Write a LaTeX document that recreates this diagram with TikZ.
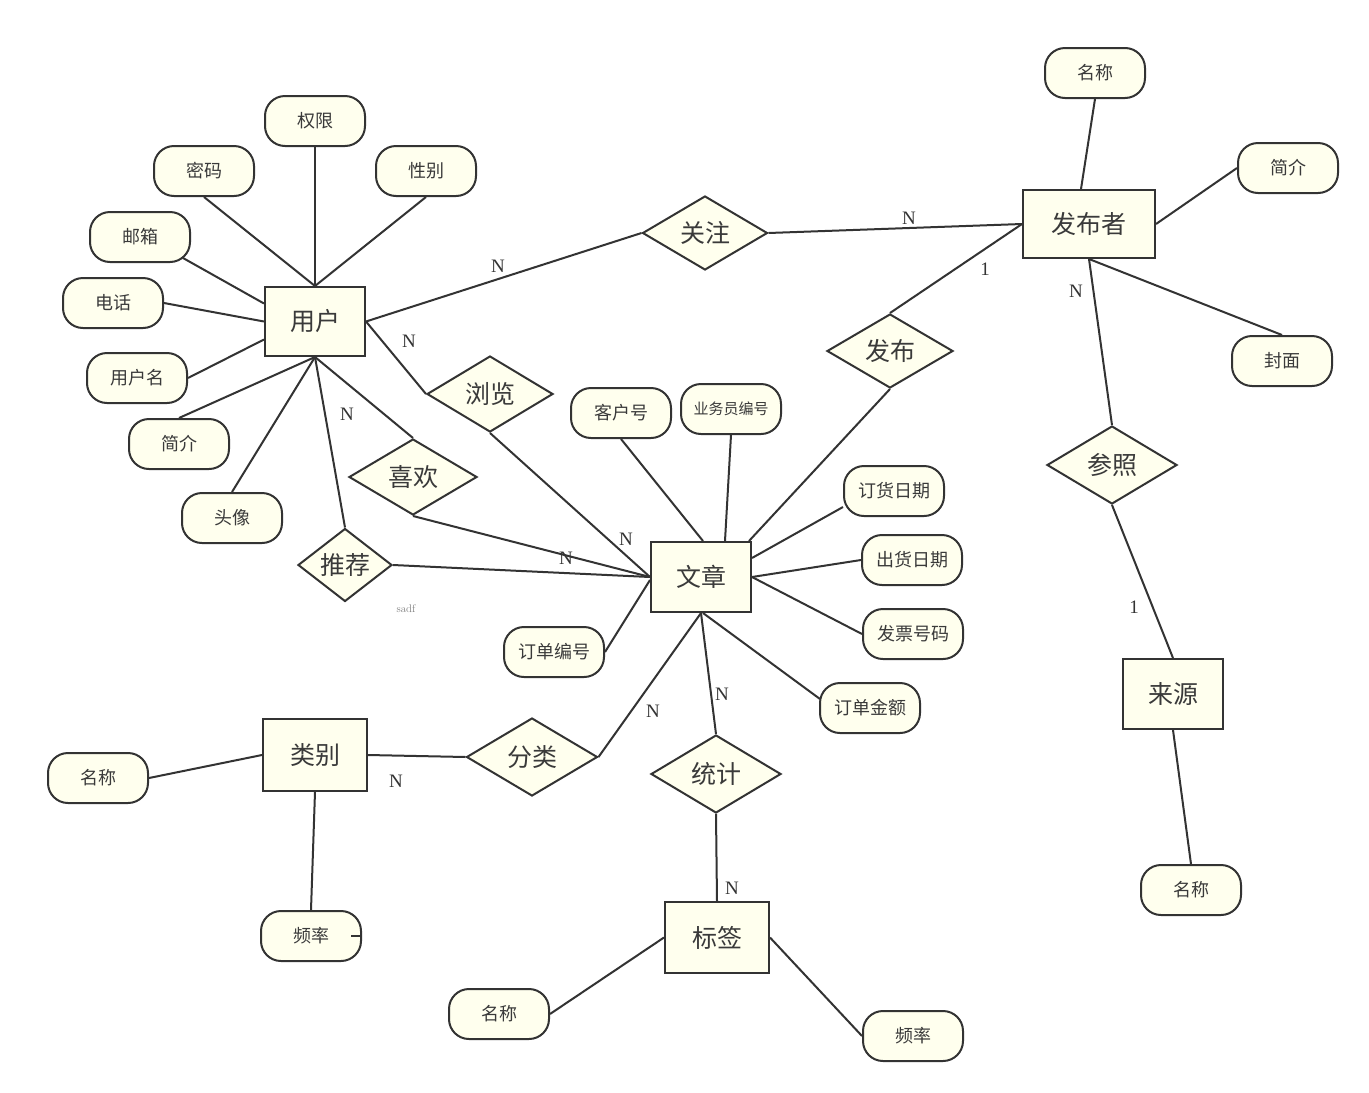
\documentclass[tikz,border=0pt]{standalone}
\usepackage{fontspec}
\newfontfamily\cjk{Noto Sans CJK SC}
\newfontfamily\lblfont{Liberation Serif}
\usetikzlibrary{shapes.geometric,backgrounds,calc}
\definecolor{ln}{HTML}{333333}
\definecolor{fillc}{HTML}{FFFFEE}
\definecolor{txt}{HTML}{3A3A3A}
\tikzset{
  ent/.style={draw=ln,line width=2pt,fill=fillc,rectangle,inner sep=0pt,text=txt,font=\cjk\fontsize{25}{30}\selectfont},
  rel/.style={draw=ln,line width=2pt,fill=fillc,diamond,inner sep=0pt,text=txt,font=\cjk\fontsize{25}{30}\selectfont},
  attr/.style={draw=ln,line width=2pt,fill=fillc,rectangle,rounded corners=20pt,minimum width=100pt,minimum height=50pt,inner sep=0pt,text=txt,font=\cjk\fontsize{18}{22}\selectfont},
  lbl/.style={text=ln,font=\lblfont\fontsize{19}{22}\selectfont,inner sep=0pt},
  conn/.style={draw=ln,line width=2pt}
}
\begin{document}
\begin{tikzpicture}[x=1pt,y=-1pt]
\useasboundingbox (0,0) rectangle (1369,1093);
% entities
\node[ent,minimum width=100pt,minimum height=69pt] (yh) at (315,321.5) {用户};
\node[ent,minimum width=100pt,minimum height=70pt] (wz) at (701,577) {文章};
\node[ent,minimum width=132pt,minimum height=68pt] (fbz) at (1089,224) {发布者};
\node[ent,minimum width=104pt,minimum height=72pt] (lb) at (315,755) {类别};
\node[ent,minimum width=104pt,minimum height=71pt] (bq) at (717,937.5) {标签};
\node[ent,minimum width=100pt,minimum height=70pt] (ly) at (1173,694) {来源};
% relations
\node[rel,minimum width=125pt,minimum height=74pt] (gz) at (705,233) {关注};
\node[rel,minimum width=126pt,minimum height=76pt] (ll) at (490,394) {浏览};
\node[rel,minimum width=128pt,minimum height=76pt] (xh) at (413,477) {喜欢};
\node[rel,minimum width=94pt,minimum height=70pt] (tj) at (345,565) {推荐};
\node[rel,minimum width=126pt,minimum height=74pt] (fb) at (890,351) {发布};
\node[rel,minimum width=130pt,minimum height=78pt] (cz) at (1112,465) {参照};
\node[rel,minimum width=131pt,minimum height=78pt] (fl) at (532,757) {分类};
\node[rel,minimum width=130pt,minimum height=78pt] (tjj) at (716,774) {统计};
% attributes
\node[attr] (qx) at (315,121) {权限};
\node[attr] (mm) at (204,171) {密码};
\node[attr] (xb) at (426,171) {性别};
\node[attr] (yx) at (140,237) {邮箱};
\node[attr] (dh) at (113,303) {电话};
\node[attr] (yhm) at (137,378) {用户名};
\node[attr] (jj) at (179,444) {简介};
\node[attr] (tx) at (232,518) {头像};
\node[attr] (khh) at (621,413) {客户号};
\node[attr,font=\cjk\fontsize{15}{18}\selectfont] (ywy) at (731,409) {业务员编号};
\node[attr] (dhrq) at (894,491) {订货日期};
\node[attr] (chrq) at (912,560) {出货日期};
\node[attr] (fphm) at (913,634) {发票号码};
\node[attr] (ddje) at (870,708) {订单金额};
\node[attr] (ddbh) at (554,652) {订单编号};
\node[attr] (mca) at (1095,73) {名称};
\node[attr] (jjb) at (1288,168) {简介};
\node[attr] (fm) at (1282,361) {封面};
\node[attr] (mcb) at (1191,890) {名称};
\node[attr] (mcc) at (98,778) {名称};
\node[attr] (pla) at (311,936) {频率};
\node[attr] (mcd) at (499,1014) {名称};
\node[attr] (plb) at (913,1036) {频率};
% labels
\node[lbl] (n1) at (498,266) {N};
\node[lbl] (n2) at (409,341) {N};
\node[lbl] (n3) at (347,414) {N};
\node[lbl] (n4) at (626,539) {N};
\node[lbl] (n5) at (566,558) {N};
\node[lbl] (o1) at (985,269) {1};
\node[lbl] (n6) at (909,218) {N};
\node[lbl] (n7) at (1076,291) {N};
\node[lbl] (o2) at (1134,607) {1};
\node[lbl] (n8) at (653,711) {N};
\node[lbl] (n9) at (722,694) {N};
\node[lbl] (n10) at (732,888) {N};
\node[lbl] (n11) at (396,781) {N};
\node[text=gray,font=\fontsize{11}{13}\selectfont,inner sep=0pt] (sadf) at (406,609) {sadf};
% connectors
\begin{pgfonlayer}{background}
\fill[white] (0,0) rectangle (1369,1093);
\draw[conn] (yh.north) -- (qx.south);
\draw[conn] (yh.north) -- (mm.south);
\draw[conn] (yh.north) -- (xb.south);
\draw[conn] ($(yh.west)+(0,-18)$) -- ($(yx.center)+(43,21)$);
\draw[conn] (yh.west) -- (dh.east);
\draw[conn] ($(yh.west)+(0,18)$) -- (yhm.east);
\draw[conn] (yh.south) -- (jj.north);
\draw[conn] (yh.south) -- (tx.north);
\draw[conn] (yh.east) -- (gz.west);
\draw[conn] (yh.east) -- (ll.west);
\draw[conn] (ll.south) -- (wz.west);
\draw[conn] (yh.south) -- (xh.north);
\draw[conn] (xh.south) -- (wz.west);
\draw[conn] (yh.south) -- (tj.north);
\draw[conn] (tj.east) -- (wz.west);
\draw[conn] ($(wz.north east)+(-3,0)$) -- (fb.south);
\draw[conn] (fb.north) -- (fbz.west);
\draw[conn] (gz.east) -- (fbz.west);
\draw[conn] ($(fbz.north)+(-8,0)$) -- (mca.south);
\draw[conn] (fbz.east) -- (jjb.west);
\draw[conn] (fbz.south) -- (fm.north);
\draw[conn] (fbz.south) -- (cz.north);
\draw[conn] (cz.south) -- (ly.north);
\draw[conn] (ly.south) -- (mcb.north);
\draw[conn] (khh.south) -- ($(wz.north)+(2,0)$);
\draw[conn] (ywy.south) -- ($(wz.north)+(24,0)$);
\draw[conn] ($(dhrq.west)+(0,16)$) -- ($(wz.east)+(0,-19)$);
\draw[conn] (chrq.west) -- (wz.east);
\draw[conn] (fphm.west) -- (wz.east);
\draw[conn] ($(ddje.west)+(1,-9)$) -- ($(wz.south)+(2,0)$);
\draw[conn] (ddbh.east) -- ($(wz.west)+(0,3)$);
\draw[conn] (wz.south) -- (fl.east);
\draw[conn] (wz.south) -- (tjj.north);
\draw[conn] (tjj.south) -- (bq.north);
\draw[conn] (fl.west) -- (lb.east);
\draw[conn] (lb.west) -- (mcc.east);
\draw[conn] (lb.south) -- (pla.north);
\draw[conn] (bq.west) -- (mcd.east);
\draw[conn] (bq.east) -- (plb.west);
\end{pgfonlayer}
\draw[conn] ($(pla.east)+(-11,0)$) -- (pla.east);
\end{tikzpicture}
\end{document}
